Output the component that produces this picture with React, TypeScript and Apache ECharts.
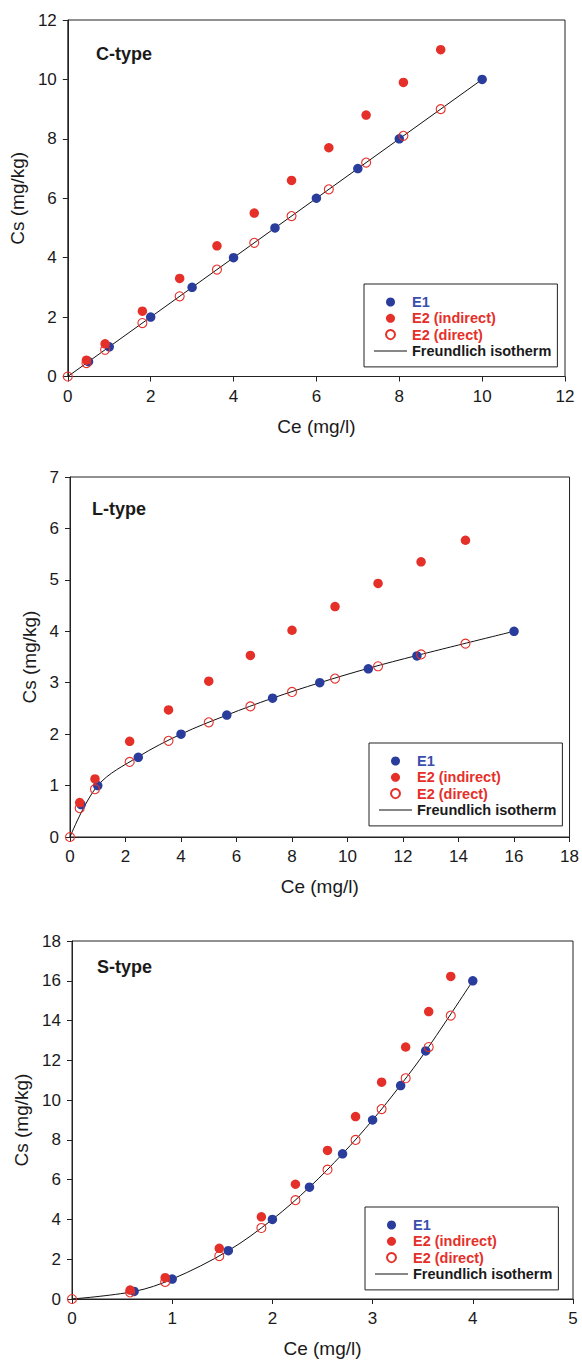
import React, { useEffect, useRef } from "react";
import * as echarts from "echarts";

// ---------- Data (Ce mg/l, Cs mg/kg) ----------
const cTypeE1 = [[0.5, 0.5], [1, 1], [2, 2], [3, 3], [4, 4], [5, 5], [6, 6], [7, 7], [8, 8], [10, 10]];
const cTypeE2Indirect = [[0.45, 0.55], [0.9, 1.1], [1.8, 2.2], [2.7, 3.3], [3.6, 4.4], [4.5, 5.5], [5.4, 6.6], [6.3, 7.7], [7.2, 8.8], [8.1, 9.9], [9, 11]];
const cTypeE2Direct = [[0, 0], [0.45, 0.45], [0.9, 0.9], [1.8, 1.8], [2.7, 2.7], [3.6, 3.6], [4.5, 4.5], [5.4, 5.4], [6.3, 6.3], [7.2, 7.2], [8.1, 8.1], [9, 9]];
const cTypeFreundlich = [[0, 0], [10, 10]];

const lTypeE1 = [[0.4, 0.63], [1, 1], [2.46, 1.55], [4, 2], [5.65, 2.37], [7.3, 2.7], [9, 3], [10.75, 3.27], [12.5, 3.52], [16, 4]];
const lTypeE2Indirect = [[0.35, 0.67], [0.9, 1.13], [2.15, 1.86], [3.55, 2.47], [5, 3.03], [6.5, 3.53], [8, 4.02], [9.55, 4.48], [11.1, 4.93], [12.65, 5.35], [14.25, 5.77]];
const lTypeE2Direct = [[0, 0], [0.35, 0.56], [0.9, 0.93], [2.15, 1.46], [3.55, 1.87], [5, 2.23], [6.5, 2.54], [8, 2.82], [9.55, 3.08], [11.1, 3.32], [12.65, 3.55], [14.25, 3.76]];
const lTypeFreundlich = [[0, 0], [1, 1], [2.46, 1.56], [4, 2], [5.65, 2.37], [7.3, 2.7], [9, 3], [10.75, 3.28], [12.5, 3.53], [16, 4]];

const sTypeE1 = [[0.62, 0.38], [1, 1], [1.56, 2.43], [2, 4], [2.37, 5.62], [2.7, 7.3], [3, 9], [3.28, 10.73], [3.53, 12.47], [4, 16]];
const sTypeE2Indirect = [[0.58, 0.45], [0.93, 1.07], [1.47, 2.55], [1.89, 4.13], [2.23, 5.77], [2.55, 7.47], [2.83, 9.17], [3.09, 10.9], [3.33, 12.67], [3.56, 14.45], [3.78, 16.22]];
const sTypeE2Direct = [[0, 0], [0.58, 0.33], [0.93, 0.86], [1.47, 2.16], [1.89, 3.57], [2.23, 4.97], [2.55, 6.5], [2.83, 8.0], [3.09, 9.55], [3.33, 11.1], [3.56, 12.67], [3.78, 14.25]];
const sTypeFreundlich = [[0, 0], [0.62, 0.38], [1, 1], [1.56, 2.43], [2, 4], [2.37, 5.62], [2.7, 7.3], [3, 9], [3.28, 10.76], [3.53, 12.46], [4, 16]];

const panelTitles = ["C-type", "L-type", "S-type"];
const seriesNames = ["E1", "E2 (indirect)", "E2 (direct)", "Freundlich isotherm"];
const xAxisName = "Ce (mg/l)";
const yAxisName = "Cs (mg/kg)";
const xMax = [12, 18, 5];
const xInterval = [2, 2, 1];
const yMax = [12, 7, 18];
const yInterval = [2, 1, 2];

const BLUE = "#2a3d9c";
const BLUE_TEXT = "#3a4eae";
const RED = "#e5302a";
const FONT = "'Liberation Sans', Arial, Helvetica, sans-serif";

const panels = [
  { e1: cTypeE1, ind: cTypeE2Indirect, dir: cTypeE2Direct, fr: cTypeFreundlich, smooth: false },
  { e1: lTypeE1, ind: lTypeE2Indirect, dir: lTypeE2Direct, fr: lTypeFreundlich, smooth: 0.35 },
  { e1: sTypeE1, ind: sTypeE2Indirect, dir: sTypeE2Direct, fr: sTypeFreundlich, smooth: 0.35 },
];

// layout
const grids = [
  { left: 67, top: 20, width: 498, height: 356.5 },
  { left: 70, top: 477, width: 502, height: 360 },
  { left: 72, top: 941, width: 501, height: 358 },
];
const yNameGap = [38, 31, 39];
const titlePos = [
  { left: 96, top: 45 },
  { left: 92, top: 500 },
  { left: 97, top: 958 },
];
const legendPos = [
  { left: 364, top: 284 },
  { left: 369, top: 743 },
  { left: 365, top: 1207 },
];

export default function App() {
  const ref = useRef<HTMLDivElement>(null);
  useEffect(() => {
    document.body.style.margin = "0";
    const chart = echarts.init(ref.current!, null, { renderer: "svg" });
    const axisCommon = {
      type: "value",
      axisLine: { show: true, lineStyle: { color: "#222", width: 1 } },
      axisTick: { show: true, inside: false, length: 5, lineStyle: { color: "#222" } },
      splitLine: { show: false },
      axisLabel: { color: "#1a1a1a", fontSize: 17, fontFamily: FONT, margin: 11 },
      nameLocation: "middle",
      nameTextStyle: { color: "#1a1a1a", fontSize: 19, fontFamily: FONT },
    };
    const series: any[] = [];
    panels.forEach((p, i) => {
      series.push({
        name: seriesNames[3], type: "line", xAxisIndex: i, yAxisIndex: i,
        data: p.fr, smooth: p.smooth, symbol: "none",
        lineStyle: { color: "#111", width: 1 }, itemStyle: { color: "#111" }, z: 1,
      });
      series.push({
        name: seriesNames[0], type: "scatter", xAxisIndex: i, yAxisIndex: i,
        data: p.e1, symbol: "circle", symbolSize: 9.5, itemStyle: { color: BLUE, opacity: 1 }, z: 2,
      });
      series.push({
        name: seriesNames[1], type: "scatter", xAxisIndex: i, yAxisIndex: i,
        data: p.ind, symbol: "circle", symbolSize: 9.5, itemStyle: { color: RED, opacity: 1 }, z: 3,
      });
      series.push({
        name: seriesNames[2], type: "scatter", xAxisIndex: i, yAxisIndex: i,
        data: p.dir, symbol: "circle", symbolSize: 9,
        itemStyle: { color: "rgba(255,255,255,0)", borderColor: RED, borderWidth: 1.1, opacity: 1 }, z: 4,
      });
    });
    const textColors = [BLUE_TEXT, RED, RED, "#1a1a1a"];
    chart.setOption({
      animation: false,
      backgroundColor: "#fff",
      title: panelTitles.map((t, i) => ({
        text: t, left: titlePos[i].left, top: titlePos[i].top, padding: 0,
        textStyle: { fontSize: 18, fontWeight: "bold", color: "#1a1a1a", fontFamily: FONT },
      })),
      grid: grids.map((g) => ({ ...g, show: true, borderColor: "#222", borderWidth: 1, backgroundColor: "transparent" })),
      xAxis: grids.map((_, i) => ({
        ...axisCommon, gridIndex: i, min: 0, max: xMax[i], interval: xInterval[i],
        name: xAxisName, nameGap: 40,
      })),
      yAxis: grids.map((_, i) => ({
        ...axisCommon, gridIndex: i, min: 0, max: yMax[i], interval: yInterval[i],
        name: yAxisName, nameGap: yNameGap[i],
      })),
      legend: legendPos.map((lp) => ({
        left: lp.left, top: lp.top, orient: "vertical",
        borderColor: "#222", borderWidth: 1, borderRadius: 0,
        padding: [10, 6, 8, 10], itemGap: 0.3, itemWidth: 33, itemHeight: 9,
        selectedMode: false, symbolKeepAspect: true,
        textStyle: { fontSize: 14.5, fontWeight: "bold", fontFamily: FONT, lineHeight: 16 },
        data: seriesNames.map((n, k) =>
          k === 3
            ? { name: n, icon: "path://M0,0 H33 V1 H0 Z", itemStyle: { color: "#111" }, textStyle: { color: textColors[k] } }
            : { name: n, textStyle: { color: textColors[k] } }
        ),
      })),
      series,
    });
    return () => chart.dispose();
  }, []);
  return <div ref={ref} style={{ width: 582, height: 1361 }} />;
}
